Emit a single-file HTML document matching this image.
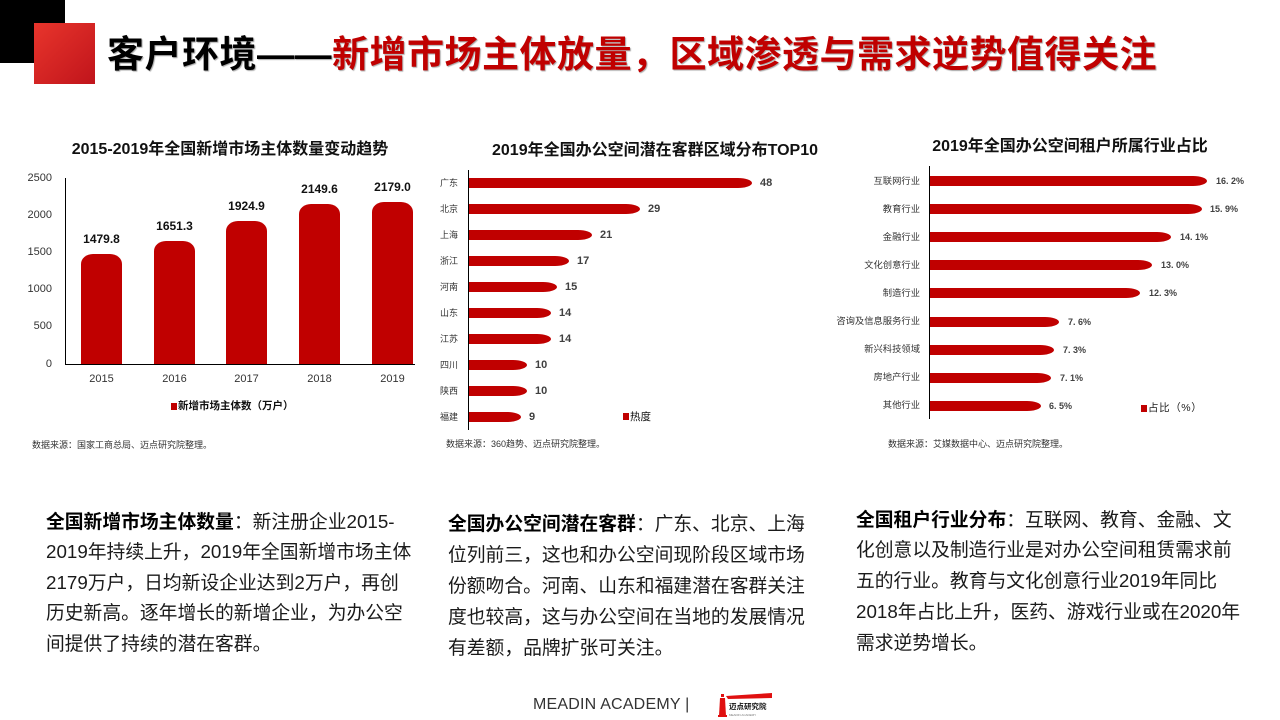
<!DOCTYPE html>
<html><head><meta charset="utf-8">
<style>
*{margin:0;padding:0;box-sizing:border-box}
body{width:1280px;height:720px;background:#fff;position:relative;overflow:hidden;font-family:"Liberation Sans","Noto Sans CJK SC",sans-serif;color:#222}
.a{position:absolute;white-space:nowrap;line-height:1}
.bar{position:absolute;background:#c00000}
.vb{border-radius:12px 12px 0 0/10px 10px 0 0}
.hb{height:10px;border-radius:0 14px 14px 0/0 5px 5px 0}
.ln{position:absolute;background:#000}
.ct{font-size:16px;font-weight:bold;color:#111;text-align:center}
.yl{font-size:11px;color:#333;text-align:right;width:40px}
.xl{font-size:11px;color:#333;text-align:center;width:50px}
.vl{font-size:12px;font-weight:bold;color:#111;text-align:center;width:60px}
.c2{font-size:9px;color:#333}
.v2{font-size:11px;font-weight:bold;color:#404040}
.c3{font-size:9.3px;color:#333;text-align:right;width:120px}
.v3{font-size:9px;font-weight:bold;color:#404040}
.src{font-size:9px;color:#333}
.sq{position:absolute;background:#c00000;width:6px;height:7px}
.txt{position:absolute;white-space:nowrap;font-size:18.8px;color:#1a1a1a}
.txt b{color:#000}
</style></head><body>

<!-- header -->
<div style="position:absolute;left:0;top:0;width:65px;height:63px;background:#000"></div>
<div style="position:absolute;left:34px;top:23px;width:61px;height:61px;background:linear-gradient(135deg,#e8352c,#c0141b)"></div>
<div class="a" style="left:107px;top:35px;height:40px;line-height:40px;font-size:37px;font-weight:bold;letter-spacing:0.5px;text-shadow:1px 1px 1px rgba(0,0,0,0.35)"><span style="color:#000">客户环境——</span><span style="color:#c00000">新增市场主体放量，区域渗透与需求逆势值得关注</span></div>

<!-- chart 1 -->
<div class="a ct" style="left:30px;width:400px;top:142px">2015-2019年全国新增市场主体数量变动趋势</div>
<div class="a yl" style="left:12px;top:172.5px">2500</div>
<div class="a yl" style="left:12px;top:209.7px">2000</div>
<div class="a yl" style="left:12px;top:246.9px">1500</div>
<div class="a yl" style="left:12px;top:284.1px">1000</div>
<div class="a yl" style="left:12px;top:321.3px">500</div>
<div class="a yl" style="left:12px;top:358.5px">0</div>
<div class="bar vb" style="left:81px;top:254px;width:41px;height:110px"></div>
<div class="bar vb" style="left:154px;top:241px;width:41px;height:123px"></div>
<div class="bar vb" style="left:226px;top:221px;width:41px;height:143px"></div>
<div class="bar vb" style="left:299px;top:204px;width:41px;height:160px"></div>
<div class="bar vb" style="left:372px;top:202px;width:41px;height:162px"></div>
<div class="ln" style="left:65px;top:178px;width:1px;height:187px"></div>
<div class="ln" style="left:65px;top:364px;width:350px;height:1px"></div>
<div class="a vl" style="left:71.5px;top:233px">1479.8</div>
<div class="a vl" style="left:144.5px;top:220px">1651.3</div>
<div class="a vl" style="left:216.5px;top:200px">1924.9</div>
<div class="a vl" style="left:289.5px;top:183px">2149.6</div>
<div class="a vl" style="left:362.5px;top:181px">2179.0</div>
<div class="a xl" style="left:76.5px;top:373.5px">2015</div>
<div class="a xl" style="left:149.5px;top:373.5px">2016</div>
<div class="a xl" style="left:221.5px;top:373.5px">2017</div>
<div class="a xl" style="left:294.5px;top:373.5px">2018</div>
<div class="a xl" style="left:367.5px;top:373.5px">2019</div>
<div class="sq" style="left:171px;top:403px"></div>
<div class="a" style="left:178px;top:400.5px;font-size:10.5px;font-weight:bold;color:#111">新增市场主体数（万户）</div>
<div class="a src" style="left:32px;top:440.5px">数据来源：国家工商总局、迈点研究院整理。</div>

<!-- chart 2 -->
<div class="a ct" style="left:455px;width:400px;top:142.5px">2019年全国办公空间潜在客群区域分布TOP10</div>
<div class="bar hb" style="left:468px;top:178px;width:284px"></div>
<div class="bar hb" style="left:468px;top:204px;width:172px"></div>
<div class="bar hb" style="left:468px;top:230px;width:124px"></div>
<div class="bar hb" style="left:468px;top:256px;width:101px"></div>
<div class="bar hb" style="left:468px;top:282px;width:89px"></div>
<div class="bar hb" style="left:468px;top:308px;width:83px"></div>
<div class="bar hb" style="left:468px;top:334px;width:83px"></div>
<div class="bar hb" style="left:468px;top:360px;width:59px"></div>
<div class="bar hb" style="left:468px;top:386px;width:59px"></div>
<div class="bar hb" style="left:468px;top:412px;width:53px"></div>
<div class="ln" style="left:468px;top:170px;width:1px;height:260px"></div>
<div class="a c2" style="left:440px;top:178.5px">广东</div>
<div class="a c2" style="left:440px;top:204.5px">北京</div>
<div class="a c2" style="left:440px;top:230.5px">上海</div>
<div class="a c2" style="left:440px;top:256.5px">浙江</div>
<div class="a c2" style="left:440px;top:282.5px">河南</div>
<div class="a c2" style="left:440px;top:308.5px">山东</div>
<div class="a c2" style="left:440px;top:334.5px">江苏</div>
<div class="a c2" style="left:440px;top:360.5px">四川</div>
<div class="a c2" style="left:440px;top:386.5px">陕西</div>
<div class="a c2" style="left:440px;top:412.5px">福建</div>
<div class="a v2" style="left:760px;top:177.5px">48</div>
<div class="a v2" style="left:648px;top:203.5px">29</div>
<div class="a v2" style="left:600px;top:229.5px">21</div>
<div class="a v2" style="left:577px;top:255.5px">17</div>
<div class="a v2" style="left:565px;top:281.5px">15</div>
<div class="a v2" style="left:559px;top:307.5px">14</div>
<div class="a v2" style="left:559px;top:333.5px">14</div>
<div class="a v2" style="left:535px;top:359.5px">10</div>
<div class="a v2" style="left:535px;top:385.5px">10</div>
<div class="a v2" style="left:529px;top:411.5px">9</div>
<div class="sq" style="left:623px;top:413px"></div>
<div class="a" style="left:630px;top:411.5px;font-size:10.5px;color:#111">热度</div>
<div class="a src" style="left:446px;top:439.5px">数据来源：360趋势、迈点研究院整理。</div>

<!-- chart 3 -->
<div class="a ct" style="left:870px;width:400px;top:139px">2019年全国办公空间租户所属行业占比</div>
<div class="bar hb" style="left:929px;top:176px;width:278px"></div>
<div class="bar hb" style="left:929px;top:204px;width:273px"></div>
<div class="bar hb" style="left:929px;top:232px;width:242px"></div>
<div class="bar hb" style="left:929px;top:260px;width:223px"></div>
<div class="bar hb" style="left:929px;top:288px;width:211px"></div>
<div class="bar hb" style="left:929px;top:316.5px;width:130px"></div>
<div class="bar hb" style="left:929px;top:344.5px;width:125px"></div>
<div class="bar hb" style="left:929px;top:372.5px;width:122px"></div>
<div class="bar hb" style="left:929px;top:400.5px;width:112px"></div>
<div class="ln" style="left:929px;top:166px;width:1px;height:253px"></div>
<div class="a c3" style="left:800px;top:176.5px">互联网行业</div>
<div class="a c3" style="left:800px;top:204.5px">教育行业</div>
<div class="a c3" style="left:800px;top:232.5px">金融行业</div>
<div class="a c3" style="left:800px;top:260.5px">文化创意行业</div>
<div class="a c3" style="left:800px;top:288.5px">制造行业</div>
<div class="a c3" style="left:800px;top:317px">咨询及信息服务行业</div>
<div class="a c3" style="left:800px;top:345px">新兴科技领域</div>
<div class="a c3" style="left:800px;top:373px">房地产行业</div>
<div class="a c3" style="left:800px;top:401px">其他行业</div>
<div class="a v3" style="left:1216px;top:177px">16. 2%</div>
<div class="a v3" style="left:1210px;top:205px">15. 9%</div>
<div class="a v3" style="left:1180px;top:233px">14. 1%</div>
<div class="a v3" style="left:1161px;top:261px">13. 0%</div>
<div class="a v3" style="left:1149px;top:289px">12. 3%</div>
<div class="a v3" style="left:1068px;top:317.5px">7. 6%</div>
<div class="a v3" style="left:1063px;top:345.5px">7. 3%</div>
<div class="a v3" style="left:1060px;top:373.5px">7. 1%</div>
<div class="a v3" style="left:1049px;top:401.5px">6. 5%</div>
<div class="sq" style="left:1141px;top:405px"></div>
<div class="a" style="left:1148px;top:402.5px;font-size:10.5px;color:#222;letter-spacing:0.6px">占比（%）</div>
<div class="a src" style="left:888px;top:439.5px">数据来源：艾媒数据中心、迈点研究院整理。</div>

<!-- bottom text -->
<div class="txt" style="left:46px;top:506.75px;line-height:30.5px"><b>全国新增市场主体数量</b>：新注册企业2015-<br>2019年持续上升，2019年全国新增市场主体<br>2179万户，日均新设企业达到2万户，再创<br>历史新高。逐年增长的新增企业，为办公空<br>间提供了持续的潜在客群。</div>
<div class="txt" style="left:448px;top:507.5px;line-height:31px"><b>全国办公空间潜在客群</b>：广东、北京、上海<br>位列前三，这也和办公空间现阶段区域市场<br>份额吻合。河南、山东和福建潜在客群关注<br>度也较高，这与办公空间在当地的发展情况<br>有差额，品牌扩张可关注。</div>
<div class="txt" style="left:856px;top:504.6px;line-height:30.75px"><b>全国租户行业分布</b>：互联网、教育、金融、文<br>化创意以及制造行业是对办公空间租赁需求前<br>五的行业。教育与文化创意行业2019年同比<br>2018年占比上升，医药、游戏行业或在2020年<br>需求逆势增长。</div>

<!-- footer -->
<div class="a" style="left:533px;top:697px;font-size:16px;color:#333;letter-spacing:0.2px">MEADIN ACADEMY |</div>
<svg style="position:absolute;left:716px;top:690px" width="60" height="30" viewBox="0 0 60 30">
  <polygon points="10,6 56,3 56,8 12,9" fill="#e01010"/>
  <rect x="5" y="4" width="3" height="3" fill="#e01010"/>
  <polygon points="4,8 9,8 10,26 3,26" fill="#e01010"/>
  <rect x="2" y="25" width="9" height="2" fill="#e01010"/>
  <text x="13" y="19" font-size="7.5" font-weight="bold" fill="#111" font-family="Noto Sans CJK SC, sans-serif">迈点研究院</text>
  <text x="13" y="26" font-size="3" fill="#777" font-family="Liberation Sans, sans-serif">MEADIN ACADEMY</text>
</svg>
</body></html>
